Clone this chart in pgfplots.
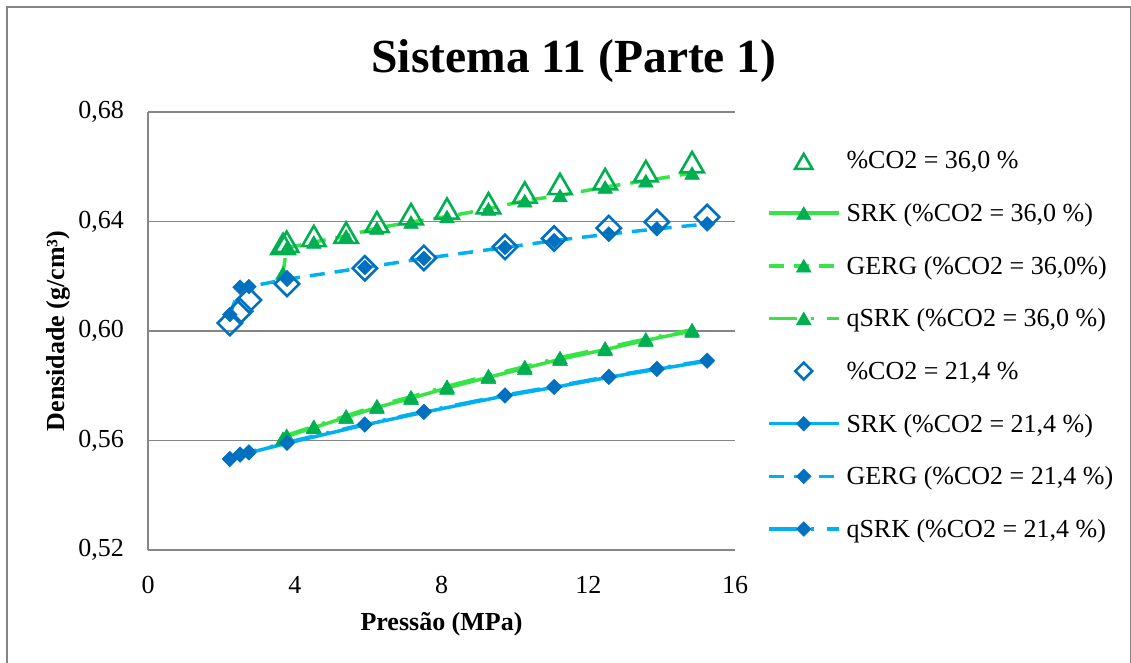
\documentclass[border=0pt]{standalone}
\usepackage{fontspec}
\setmainfont{Liberation Serif}
\usepackage{pgfplots}
\pgfplotsset{compat=1.18}
\definecolor{dg}{RGB}{0,176,80}
\definecolor{lg}{RGB}{55,228,70}
\definecolor{db}{RGB}{0,112,192}
\definecolor{lb}{RGB}{0,176,240}
\definecolor{fr}{RGB}{134,134,134}
\begin{document}
\begin{tikzpicture}[x=1pt,y=1pt]
\useasboundingbox (0,0) rectangle (1131,662);
\fill[white] (0,0) rectangle (1131,662);
\draw[fr, line width=2pt] (7,-10) -- (7,655) -- (1130.5,655) -- (1130.5,-10);
\node[anchor=base, inner sep=0pt, font=\fontsize{47.5}{56}\selectfont\bfseries] at (574,589) {Sistema 11 (Parte 1)};
\begin{axis}[
  at={(148pt,112pt)}, anchor=south west,
  scale only axis, width=587pt, height=438pt,
  xmin=0, xmax=16, ymin=0.52, ymax=0.68,
  xtick={0,4,8,12,16}, xticklabels={0,4,8,12,16},
  ytick={0.52,0.56,0.60,0.64,0.68},
  yticklabels={{0,52},{0,56},{0,60},{0,64},{0,68}},
  axis x line*=bottom, axis y line*=left,
  axis line style={fr, line width=1.5pt, -},
  major tick length=0pt,
  ymajorgrids, grid style={fr, line width=1.5pt},
  tick label style={font=\fontsize{26}{31}\selectfont},
  xticklabel style={anchor=base, inner sep=0pt, yshift=-43pt},
  yticklabel style={anchor=east, inner sep=0pt, xshift=-24pt},
  xlabel={Pressão (MPa)}, ylabel={Densidade (g/cm³)},
  label style={font=\fontsize{26}{31}\selectfont\bfseries},
  xlabel style={at={(axis description cs:0.5,-0.1849)}, anchor=base, inner sep=0pt},
  ylabel style={at={(axis description cs:-0.1414,0.5)}, anchor=base, inner sep=0pt},
  legend style={draw=none, fill=none, at={(1.0545,0.9247)}, anchor=north west,
    inner sep=0pt, outer sep=0pt, row sep=21.65pt,
    font=\fontsize{26}{31}\selectfont,
    nodes={inner sep=0pt, text height=24pt, text depth=7pt},
    /tikz/every odd column/.append style={column sep=6pt}},
  legend cell align=left,
  legend image code/.code={\draw[mark repeat=2,mark phase=2,#1] plot coordinates {(0pt,0pt) (35pt,0pt) (70pt,0pt)};},
  clip=false,
]
% 36,0 % experimental
\addplot[only marks, mark=triangle, mark size=13.5pt, mark options={dg, line width=2.6pt, yshift=-3.4pt}, legend image post style={mark size=10pt}] coordinates {
(3.68,0.6318) (3.78,0.6326) (4.52,0.6347) (5.40,0.6359) (6.24,0.6398) (7.17,0.6427) (8.15,0.6447) (9.28,0.6467) (10.27,0.6506) (11.23,0.6537) (12.46,0.6555) (13.57,0.6584) (14.83,0.6617)};
\addlegendentry{\%CO2 = 36,0 \%}
% SRK 36
\addplot[lg, line width=3.5pt, mark=triangle*, mark size=8.5pt, mark options={solid, dg, fill=dg, line width=0.5pt, yshift=-2.1pt}] coordinates {
(3.68,0.5605) (3.78,0.5615) (4.52,0.5647) (5.40,0.5685) (6.24,0.5721) (7.17,0.5754) (8.15,0.5792) (9.28,0.5831) (10.27,0.5864) (11.23,0.5897) (12.46,0.5932) (13.57,0.5966) (14.83,0.6000)};
\addlegendentry{SRK (\%CO2 = 36,0 \%)}
% GERG 36
\addplot[lg, line width=3.5pt, dash pattern=on 15pt off 10pt, mark=triangle*, mark size=8.5pt, mark options={solid, dg, fill=dg, line width=0.5pt, yshift=-2.1pt}] coordinates {
(3.68,0.6212) (3.78,0.6303) (4.52,0.6325) (5.40,0.6347) (6.24,0.6376) (7.17,0.6398) (8.15,0.6418) (9.28,0.6446) (10.27,0.6476) (11.23,0.6495) (12.46,0.6526) (13.57,0.6549) (14.83,0.6577)};
\addlegendentry{GERG (\%CO2 = 36,0\%)}
% qSRK 36
\addplot[lg, line width=3.5pt, dash pattern=on 28pt off 14pt on 3pt off 13pt, mark=triangle*, mark size=8.5pt, mark options={solid, dg, fill=dg, line width=0.5pt, yshift=-2.1pt}] coordinates {
(3.68,0.5608) (3.78,0.5619) (4.52,0.5652) (5.40,0.5690) (6.24,0.5727) (7.17,0.5760) (8.15,0.5798) (9.28,0.5837) (10.27,0.5870) (11.23,0.5903) (12.46,0.5938) (13.57,0.5971) (14.83,0.6005)};
\addlegendentry{qSRK (\%CO2 = 36,0 \%)}
% 21,4 % experimental
\addplot[only marks, mark=square, mark size=8.6pt, mark options={db, line width=2.6pt, rotate=45}, legend image post style={mark size=6pt}] coordinates {
(2.23,0.6029) (2.51,0.6072) (2.75,0.6113) (3.79,0.6172) (5.91,0.6229) (7.52,0.6267) (9.73,0.6307) (11.07,0.6338) (12.56,0.6376) (13.87,0.6398) (15.24,0.6416)};
\addlegendentry{\%CO2 = 21,4 \%}
% SRK 21
\addplot[lb, line width=3.5pt, mark=square*, mark size=5.2pt, mark options={solid, db, fill=db, line width=0.5pt, rotate=45}] coordinates {
(2.23,0.5531) (2.51,0.5547) (2.75,0.5555) (3.79,0.5590) (5.91,0.5657) (7.52,0.5703) (9.73,0.5763) (11.07,0.5794) (12.56,0.5831) (13.87,0.5860) (15.24,0.5890)};
\addlegendentry{SRK (\%CO2 = 21,4 \%)}
% GERG 21
\addplot[lb, line width=3.5pt, dash pattern=on 15pt off 10pt, mark=square*, mark size=5.2pt, mark options={solid, db, fill=db, line width=0.5pt, rotate=45}] coordinates {
(2.23,0.6060) (2.51,0.6160) (2.75,0.6162) (3.79,0.6189) (5.91,0.6232) (7.52,0.6265) (9.73,0.6305) (11.07,0.6330) (12.56,0.6354) (13.87,0.6373) (15.24,0.6391)};
\addlegendentry{GERG (\%CO2 = 21,4 \%)}
% qSRK 21
\addplot[lb, line width=3.5pt, dash pattern=on 28pt off 14pt on 3pt off 13pt, mark=square*, mark size=5.2pt, mark options={solid, db, fill=db, line width=0.5pt, rotate=45}] coordinates {
(2.23,0.5534) (2.51,0.5550) (2.75,0.5558) (3.79,0.5593) (5.91,0.5660) (7.52,0.5706) (9.73,0.5766) (11.07,0.5797) (12.56,0.5834) (13.87,0.5863) (15.24,0.5893)};
\addlegendentry{qSRK (\%CO2 = 21,4 \%)}
\end{axis}
\end{tikzpicture}
\end{document}
